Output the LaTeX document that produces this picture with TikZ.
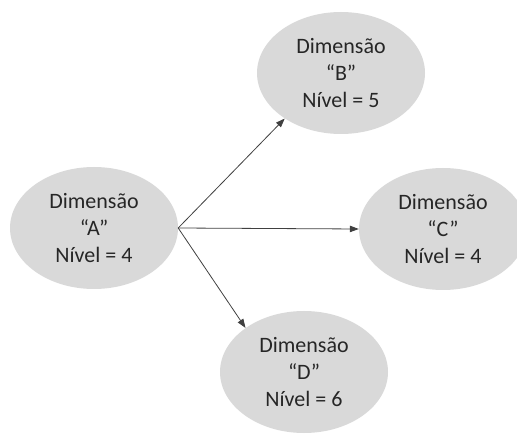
\documentclass[tikz,border=0pt]{standalone}
\usepackage{fontspec}
\setmainfont{Carlito}
\usetikzlibrary{shapes.geometric,arrows.meta}
\definecolor{ellfill}{HTML}{D9D9D9}
\definecolor{linec}{HTML}{404040}
\tikzset{
  dim/.style={ellipse, fill=ellfill, draw=none, minimum width=168pt, minimum height=122pt, inner sep=0pt, align=center, font=\fontsize{22pt}{27pt}\selectfont, text=black!85},
  conn/.style={draw=linec, line width=0.8pt, -{Triangle[length=9pt,width=6.5pt]}}
}
\begin{document}
\begin{tikzpicture}[x=1pt,y=1pt]
\clip (0,0) rectangle (517,434);
\useasboundingbox (0,0) rectangle (517,434);
\node[dim] (A) at (94,206) {Dimensão\\“A”\\Nível = 4};
\node[dim] (B) at (341,361) {Dimensão\\“B”\\Nível = 5};
\node[dim] (C) at (443,205) {Dimensão\\“C”\\Nível = 4};
\node[dim] (D) at (304,62) {Dimensão\\“D”\\Nível = 6};
\draw[conn] (A.east) -- (B.219);
\draw[conn] (A.east) -- (C.west);
\draw[conn] (A.east) -- (D.143);
\end{tikzpicture}
\end{document}
